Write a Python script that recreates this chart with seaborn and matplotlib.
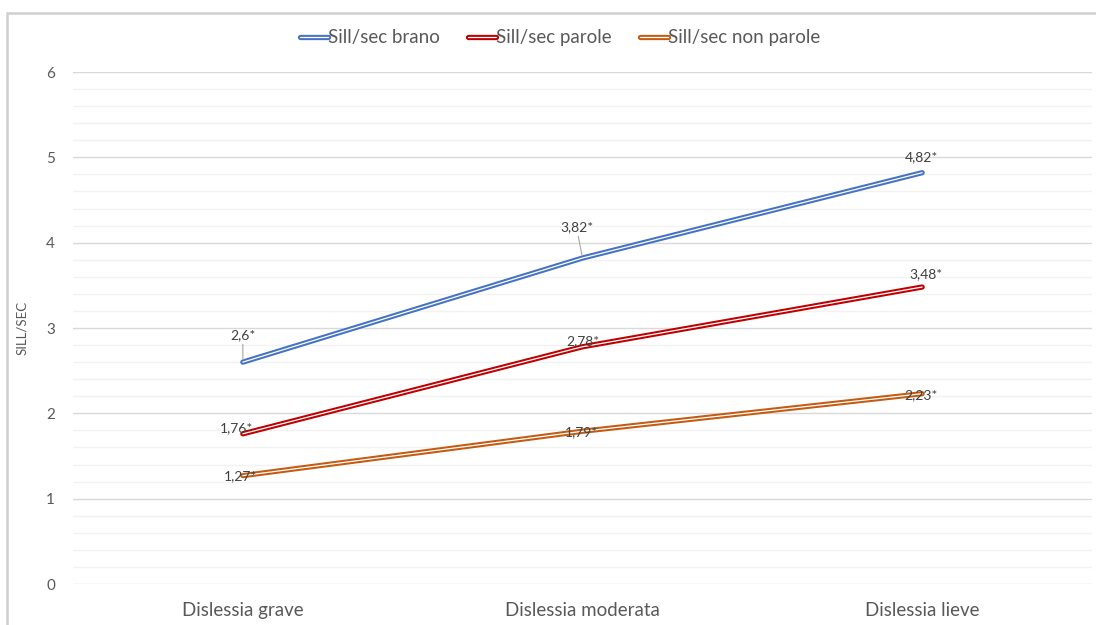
import pandas as pd
import matplotlib.pyplot as plt
import matplotlib.patheffects as pe
from matplotlib.ticker import MultipleLocator
from matplotlib.patches import Rectangle
import seaborn as sns

categories = ["Dislessia grave", "Dislessia moderata", "Dislessia lieve"]
brano = [2.6, 3.82, 4.82]
parole = [1.76, 2.78, 3.48]
non_parole = [1.27, 1.79, 2.23]
series_names = ["Sill/sec brano", "Sill/sec parole", "Sill/sec non parole"]
colors = ["#4472C4", "#C00000", "#C55A11"]

# label offsets in pixels (dx, dy) and whether a leader line is drawn
label_offsets = [
    [(0, 21, True), (-6, 25, True), (-1, 16, False)],
    [(-6, 6, False), (0, 6, False), (4, 13, False)],
    [(-2, -1, False), (-1, -1, False), (-1, -1, False)],
]

df = pd.DataFrame({"Categoria": categories * 3,
                   "Valore": brano + parole + non_parole,
                   "Serie": [s for s in series_names for _ in categories]})
df["x"] = [i for _ in series_names for i in range(len(categories))]

sns.set_theme(style="white")
plt.rcParams["font.family"] = ["Lato", "DejaVu Sans"]
grey = "#595959"

fig = plt.figure(figsize=(10.96, 6.25), dpi=100)
ax = fig.add_axes([73 / 1096, 1 - 584 / 625, 1019 / 1096, 512 / 625])

for name, col in zip(series_names, colors):
    sub = df[df["Serie"] == name]
    sns.lineplot(ax=ax, data=sub, x="x", y="Valore", color=col, label=name, legend=False)
    line = ax.lines[-1]
    line.set_color("white")
    line.set_linewidth(0.9)
    line.set_solid_capstyle("round")
    line.set_path_effects([pe.Stroke(linewidth=3.8, foreground=col, capstyle="round"), pe.Normal()])

for si, name in enumerate(series_names):
    sub = df[df["Serie"] == name]
    for (xv, yv), (dx, dy, leader) in zip(zip(sub["x"], sub["Valore"]), label_offsets[si]):
        txt = f"{yv:g}".replace(".", ",") + "*"
        kw = {}
        if leader:
            kw["arrowprops"] = dict(arrowstyle="-", color="#A6A6A6", lw=0.8, shrinkA=0, shrinkB=2)
        ax.annotate(txt, xy=(xv, yv), xytext=(dx, dy), textcoords="offset pixels",
                    ha="center", va="bottom" if leader else "center",
                    fontsize=10, color="#404040", **kw)

ax.set_xlim(-0.5, 2.5)
ax.set_ylim(0, 6)
ax.set_xticks(range(len(categories)))
ax.set_xticklabels(categories, fontsize=13.5, color=grey)
ax.yaxis.set_major_locator(MultipleLocator(1))
ax.yaxis.set_minor_locator(MultipleLocator(0.2))
ax.tick_params(axis="y", which="both", length=0, pad=13, labelsize=11, labelcolor=grey)
ax.tick_params(axis="x", length=0, pad=13)
ax.grid(which="minor", axis="y", color="#F2F2F2", lw=1)
ax.grid(which="major", axis="y", color="#D9D9D9", lw=1)
ax.set_axisbelow(True)
for s in ax.spines.values():
    s.set_visible(False)
ax.set_xlabel("")
ax.set_ylabel("SILL/SEC", fontsize=9.5, color=grey, labelpad=13)

fig.legend(handles=ax.lines[:3], labels=series_names, loc="center", bbox_to_anchor=(0.511, 1 - 38 / 625),
           ncol=3, frameon=False, fontsize=13.5, handlelength=1.5, handletextpad=0.0, columnspacing=1.5,
           labelcolor=grey)

fig.patches.append(Rectangle((7 / 1096, -0.1), 1.2, 1 - 13 / 625 + 0.1, transform=fig.transFigure,
                             fill=False, edgecolor="#D0D0D0", lw=1.8))

fig.savefig("out.png", dpi=100)
